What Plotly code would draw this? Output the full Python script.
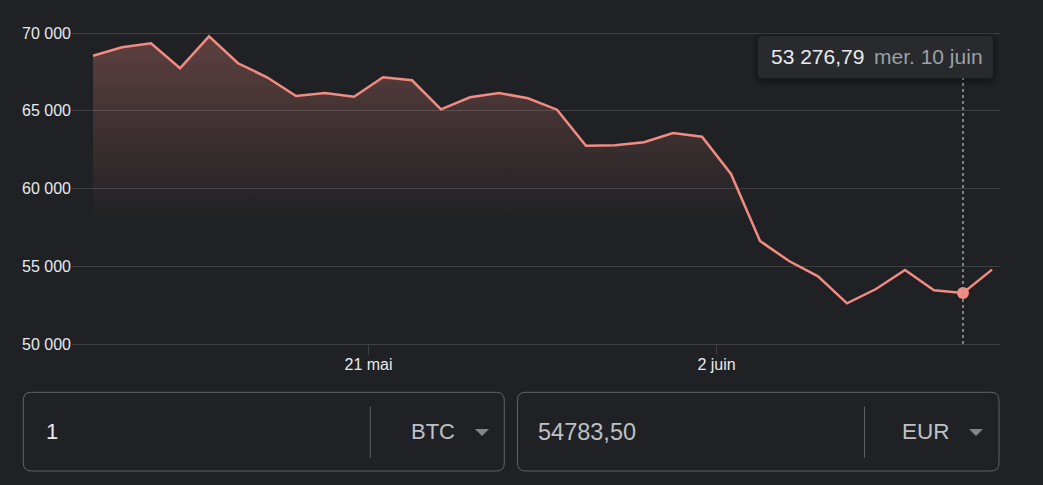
import plotly.graph_objects as go
import pandas as pd

# ---- data ----
dates = pd.date_range("2026-05-11 12:00", "2026-06-11 12:00", freq="D")
prices = [68541, 69081, 69338, 67730, 69788, 68052, 67152, 65949, 66142, 65904,
          67152, 66958, 65094, 65865, 66142, 65801, 65068, 62753, 62778, 62971,
          63569, 63333, 60933, 56624, 55338, 54354, 52617, 53537, 54759, 53453,
          53276.79, 54783.50]
hover_index = 30
hover_label = "mer. 10 juin"
x_tickvals = ["2026-05-21", "2026-06-02"]
x_ticktext = ["21 mai", "2 juin"]
y_tickvals = [50000, 55000, 60000, 65000, 70000]
amount = "1"
from_cur = "BTC"
to_cur = "EUR"

# ---- styling ----
BG = "#202124"
LINE = "#f28b82"
GRID = "#3c4043"
FONT = "Liberation Sans, Arial, sans-serif"
W, H = 1043, 485
L, R, T, B = 72, 43, 20, 141
PW, PH = W - L - R, H - T - B


def px(x):
    return (x - L) / PW


def py(y):
    return (H - B - y) / PH


def rounded_rect(x0, y0, x1, y1, r):
    rx, ry = r / PW, r / PH
    X0, X1 = px(x0), px(x1)
    Y0, Y1 = py(y0), py(y1)  # Y0 top (larger), Y1 bottom
    return (f"M {X0+rx},{Y0} L {X1-rx},{Y0} Q {X1},{Y0} {X1},{Y0-ry} "
            f"L {X1},{Y1+ry} Q {X1},{Y1} {X1-rx},{Y1} L {X0+rx},{Y1} "
            f"Q {X0},{Y1} {X0},{Y1+ry} L {X0},{Y0-ry} Q {X0},{Y0} {X0+rx},{Y0} Z")


fig = go.Figure()
fig.add_trace(go.Scatter(
    x=dates, y=prices, mode="lines",
    line=dict(color=LINE, width=2.5),
    fill="tozeroy",
    fillgradient=dict(type="vertical",
                      colorscale=[[0, "rgba(242,139,130,0)"], [1, "rgba(242,139,130,0.30)"]],
                      start=58000, stop=70000),
    hoverinfo="skip",
))
fig.add_trace(go.Scatter(
    x=[dates[hover_index]], y=[prices[hover_index]], mode="markers",
    marker=dict(color=LINE, size=12), hoverinfo="skip",
))

y_top = 50000 + PH * 20000 / 311

shapes = []
# hover dotted line
shapes.append(dict(type="line", xref="x", yref="paper",
                   x0=dates[hover_index], x1=dates[hover_index], y0=0, y1=py(78),
                   line=dict(color="#9aa0a6", width=1.5, dash="3px,3px"), layer="above"))
# tooltip shadow + box
for i, a in enumerate([0.05, 0.07, 0.09]):
    g = 6 - 2 * i
    shapes.append(dict(type="path", xref="paper", yref="paper",
                       path=rounded_rect(758 - g, 36 - g + 2, 993 + g, 78 + g + 2, 6 + g),
                       fillcolor=f"rgba(0,0,0,{a})", line=dict(width=0), layer="above"))
shapes.append(dict(type="path", xref="paper", yref="paper",
                   path=rounded_rect(758, 36, 993, 78, 4),
                   fillcolor="#292a2d", line=dict(width=0), layer="above"))

# converter boxes
for (x0, x1, sep) in [(23.3, 504.3, 370.3), (517.5, 999, 864.6)]:
    shapes.append(dict(type="path", xref="paper", yref="paper",
                       path=rounded_rect(x0, 392.3, x1, 471, 8),
                       fillcolor="rgba(0,0,0,0)", line=dict(color="#5f6368", width=1)))
    shapes.append(dict(type="line", xref="paper", yref="paper",
                       x0=px(sep), x1=px(sep), y0=py(406.7), y1=py(457.7),
                       line=dict(color="#5f6368", width=1)))
for (tx0, tx1) in [(475, 489), (969, 983)]:
    cx = (tx0 + tx1) / 2
    shapes.append(dict(type="path", xref="paper", yref="paper",
                       path=f"M {px(tx0)},{py(429)} L {px(tx1)},{py(429)} L {px(cx)},{py(436)} Z",
                       fillcolor="#80868b", line=dict(width=0)))

val = prices[hover_index]
val_txt = f"{val:,.2f}".replace(",", " ").replace(".", ",")
last_txt = f"{prices[-1]:.2f}".replace(".", ",")

annotations = [
    dict(xref="paper", yref="paper", x=px(769), y=py(57), xanchor="left", yanchor="middle",
         text=val_txt, showarrow=False, font=dict(family=FONT, size=21, color="#e8eaed")),
    dict(xref="paper", yref="paper", x=px(872), y=py(57), xanchor="left", yanchor="middle",
         text=hover_label, showarrow=False, font=dict(family=FONT, size=21, color="#9aa0a6")),
    dict(xref="paper", yref="paper", x=px(44), y=py(432), xanchor="left", yanchor="middle",
         text=amount, showarrow=False, font=dict(family=FONT, size=22, color="#e8eaed")),
    dict(xref="paper", yref="paper", x=px(457), y=py(432), xanchor="right", yanchor="middle",
         text=from_cur, showarrow=False, font=dict(family=FONT, size=22, color="#bdc1c6")),
    dict(xref="paper", yref="paper", x=px(536), y=py(432), xanchor="left", yanchor="middle",
         text=last_txt, showarrow=False, font=dict(family=FONT, size=23.5, color="#bdc1c6")),
    dict(xref="paper", yref="paper", x=px(951.5), y=py(432), xanchor="right", yanchor="middle",
         text=to_cur, showarrow=False, font=dict(family=FONT, size=22.5, color="#bdc1c6")),
]

fig.update_layout(
    width=W, height=H,
    margin=dict(l=L, r=R, t=T, b=B, pad=0),
    paper_bgcolor=BG, plot_bgcolor=BG,
    showlegend=False, hovermode=False,
    separators=", ",
    font=dict(family=FONT, color="#e8eaed", size=16),
    shapes=shapes, annotations=annotations,
    xaxis=dict(
        range=["2026-05-10 18:36", "2026-06-11 18:37"],
        tickvals=x_tickvals, ticktext=x_ticktext,
        showgrid=False, zeroline=False,
        showline=True, linecolor=GRID, linewidth=1,
        ticks="outside", ticklen=10, tickcolor=GRID, tickwidth=1,
        tickfont=dict(size=16, color="#e8eaed"),
        ticklabelstandoff=-4,
        fixedrange=True,
    ),
    yaxis=dict(
        range=[50000, y_top],
        tickvals=y_tickvals, tickformat=",.0f",
        showgrid=True, gridcolor=GRID, gridwidth=1,
        zeroline=False, showline=False, ticks="",
        tickfont=dict(size=16, color="#e8eaed"),
        ticklabelstandoff=0,
        fixedrange=True,
    ),
)

fig.write_html("out.html", config={"displayModeBar": False})
